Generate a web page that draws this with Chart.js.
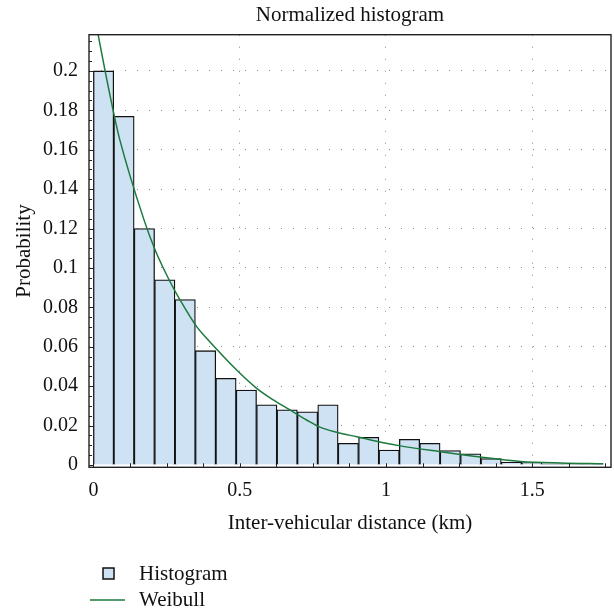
<!DOCTYPE html>
<html>
<head>
<meta charset="utf-8">
<script src="https://cdn.jsdelivr.net/npm/chart.js@4/dist/chart.umd.min.js"></script>
<style>
  html, body { margin: 0; padding: 0; background: #fff; }
  canvas { display: block; }
</style>
</head>
<body>
<canvas id="histChart" width="614" height="608"></canvas>
<script>
// bin centres of the histogram (km) and normalized counts
const binCenters = [
  0.0348, 0.1045, 0.1743, 0.2440, 0.3137, 0.3834, 0.4531, 0.5228, 0.5925,
  0.6622, 0.7319, 0.8016, 0.8713, 0.9410, 1.0107, 1.0804, 1.1501, 1.2198,
  1.2895, 1.3592, 1.4289, 1.4986, 1.5683, 1.6380, 1.7077,
];
const probabilities = [
  0.200, 0.177, 0.120, 0.094, 0.084, 0.058, 0.044, 0.038, 0.0305,
  0.028, 0.027, 0.0305, 0.011, 0.014, 0.0076, 0.013, 0.011, 0.0073,
  0.0057, 0.0032, 0.0014, 0.0012, 0.0006, 0.0006, 0.0006,
];

// fitted Weibull curve
const weibullX = [
  0.015, 0.04, 0.072, 0.089, 0.173, 0.211, 0.262, 0.296, 0.353, 0.387,
  0.501, 0.558, 0.615, 0.672, 0.729, 0.774, 0.832, 0.9, 0.945, 1.044,
  1.183, 1.322, 1.46, 1.599, 1.742,
];
const weibullY = [
  0.2194, 0.200, 0.1768, 0.1658, 0.1244, 0.1091, 0.0930, 0.0838, 0.0702, 0.0643,
  0.0465, 0.0389, 0.0330, 0.0279, 0.0228, 0.0192, 0.0166, 0.0143, 0.0128, 0.0098,
  0.0068, 0.0040, 0.0018, 0.0010, 0.0006,
];

const xTicks = [0, 0.5, 1, 1.5];
const yTicks = [0, 0.02, 0.04, 0.06, 0.08, 0.1, 0.12, 0.14, 0.16, 0.18, 0.2];

const FONT = "'Liberation Serif', 'DejaVu Serif', serif";
const AXIS_COLOR = "#222";
const fmt = (v) => String(Math.round(v * 1000) / 1000);

// small inward tick marks + frame around the plot area
const framePlugin = {
  id: "frame",
  afterDatasetsDraw(chart) {
    const { ctx, chartArea: a, scales } = chart;
    ctx.save();
    ctx.strokeStyle = AXIS_COLOR;
    ctx.lineWidth = 1;
    ctx.beginPath();
    for (let i = 0; i <= 14; i++) {
      const px = Math.round(scales.x.getPixelForValue(i * 0.125)) + 0.5;
      ctx.moveTo(px, a.bottom);
      ctx.lineTo(px, a.bottom - 4);
    }
    for (let i = 0; i <= 43; i++) {
      const py = Math.round(scales.y.getPixelForValue(i * 0.005)) + 0.5;
      ctx.moveTo(a.left, py);
      ctx.lineTo(a.left + (i % 4 === 0 ? 5 : 3), py);
    }
    ctx.stroke();
    ctx.lineWidth = 1.4;
    ctx.strokeRect(a.left, a.top, a.right - a.left, a.bottom - a.top);
    ctx.restore();
  },
};

// stacked legend under the x axis title
const legendPlugin = {
  id: "stackedLegend",
  afterDraw(chart) {
    const ctx = chart.ctx;
    const rows = [574, 600];
    ctx.save();
    ctx.font = "21px " + FONT;
    ctx.textBaseline = "middle";
    chart.data.datasets.forEach((ds, i) => {
      const y = rows[i];
      if (ds.type === "line") {
        ctx.strokeStyle = ds.borderColor;
        ctx.lineWidth = 1.5;
        ctx.beginPath();
        ctx.moveTo(90, y);
        ctx.lineTo(125, y);
        ctx.stroke();
      } else {
        ctx.fillStyle = ds.backgroundColor;
        ctx.fillRect(103, y - 6, 11, 11);
        ctx.strokeStyle = "#111";
        ctx.lineWidth = 1.5;
        ctx.strokeRect(103, y - 6, 11, 11);
      }
      ctx.fillStyle = "#111";
      ctx.fillText(ds.label, 139, y);
    });
    ctx.restore();
  },
};

new Chart(document.getElementById("histChart"), {
  type: "bar",
  data: {
    datasets: [
      {
        type: "bar",
        label: "Histogram",
        data: binCenters.map((x, i) => ({ x: x, y: probabilities[i] })),
        backgroundColor: "#cfe2f3",
        borderColor: "#111",
        borderWidth: 1.3,
        barPercentage: 1,
        categoryPercentage: 1,
        order: 1,
      },
      {
        type: "line",
        label: "Weibull",
        data: weibullX.map((x, i) => ({ x: x, y: weibullY[i] })),
        borderColor: "#1c7a3e",
        borderWidth: 1.5,
        pointRadius: 0,
        cubicInterpolationMode: "monotone",
        fill: false,
        order: 0,
      },
    ],
  },
  options: {
    responsive: false,
    animation: false,
    devicePixelRatio: 1,
    layout: { padding: { left: 0, right: 3, top: 0, bottom: 0 } },
    plugins: {
      legend: { display: false },
      tooltip: { enabled: false },
      title: {
        display: true,
        fullSize: false,
        text: "Normalized histogram",
        color: "#111",
        font: { family: FONT, size: 21, weight: "normal", lineHeight: 1.1 },
        padding: { top: 3.5, bottom: 8.1 },
      },
    },
    scales: {
      x: {
        type: "linear",
        offset: false,
        min: -0.015,
        max: 1.769,
        afterBuildTicks: (scale) => {
          scale.ticks = xTicks.map((v) => ({ value: v }));
        },
        afterFit: (scale) => {
          scale.height = 140.7;
        },
        ticks: {
          color: "#111",
          font: { family: FONT, size: 20 },
          padding: 11,
          maxRotation: 0,
          callback: fmt,
        },
        grid: {
          offset: false,
          drawTicks: false,
          color: (c) => (c.tick && c.tick.value === 0 ? "rgba(0,0,0,0)" : "#8a8a8a"),
          lineWidth: 1,
        },
        border: { display: false, dash: [1, 11] },
        title: {
          display: true,
          text: "Inter-vehicular distance (km)",
          color: "#111",
          font: { family: FONT, size: 21 },
          padding: { top: 0, bottom: 72 },
        },
      },
      y: {
        min: -0.0012,
        max: 0.2184,
        afterBuildTicks: (scale) => {
          scale.ticks = yTicks.map((v) => ({ value: v }));
        },
        afterFit: (scale) => {
          scale.width = 89;
        },
        ticks: {
          color: "#111",
          font: { family: FONT, size: 20 },
          padding: 11,
          callback: fmt,
        },
        grid: {
          drawTicks: false,
          color: (c) => (c.tick && c.tick.value === 0 ? "rgba(0,0,0,0)" : "#8a8a8a"),
          lineWidth: 1,
        },
        border: { display: false, dash: [1, 11] },
        title: {
          display: true,
          text: "Probability",
          color: "#111",
          font: { family: FONT, size: 21 },
          padding: { top: 11.4, bottom: 0 },
        },
      },
    },
  },
  plugins: [framePlugin, legendPlugin],
});
</script>
</body>
</html>
